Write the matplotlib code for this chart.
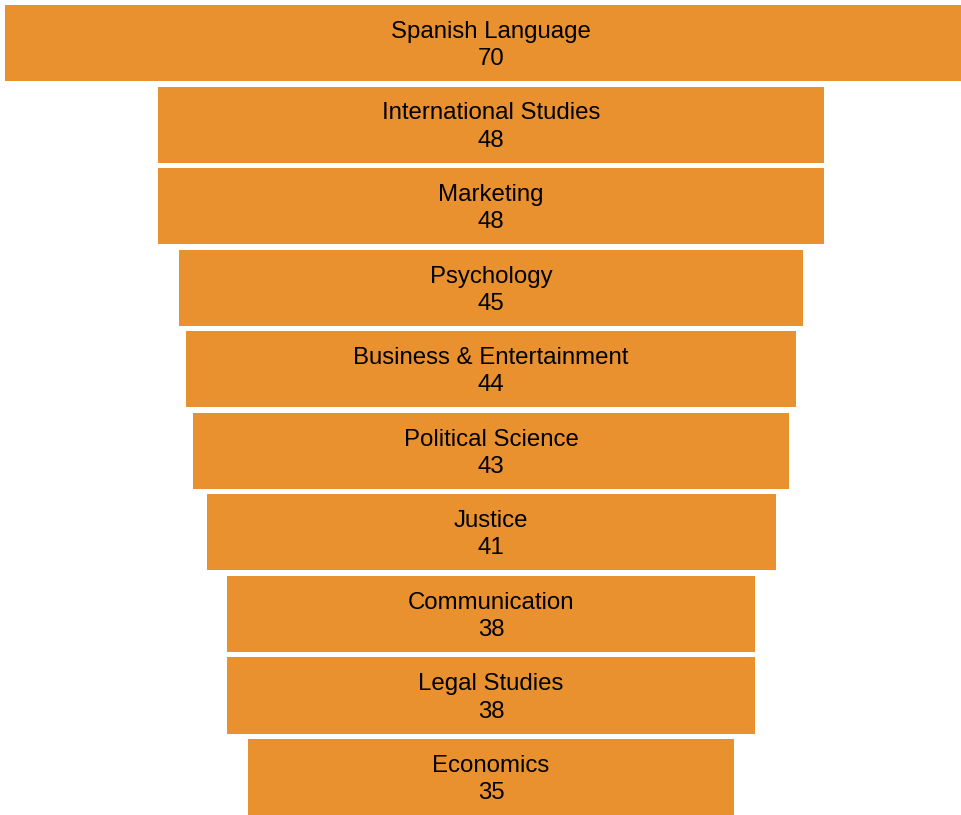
import matplotlib
matplotlib.use("Agg")
import matplotlib.pyplot as plt

categories = ["Spanish Language", "International Studies", "Marketing", "Psychology",
              "Business & Entertainment", "Political Science", "Justice",
              "Communication", "Legal Studies", "Economics"]
values = [70, 48, 48, 45, 44, 43, 41, 38, 38, 35]

bar_color = "#E9912F"
font = dict(fontsize=17.3, family=["Liberation Sans", "DejaVu Sans"], color="black")

fig = plt.figure(figsize=(9.62, 8.15), dpi=100)
ax = fig.add_axes([0, 0, 1, 1])

positions = list(range(len(categories)))
lefts = [-v / 2 for v in values]
ax.barh(positions, values, left=lefts, height=0.932, color=bar_color, edgecolor="none")

# category name above, value below, both centred on the funnel axis
for pos, cat, val in zip(positions, categories, values):
    ax.text(0, pos - 0.062, cat, ha="center", va="baseline", **font)
    ax.text(0, pos + 0.27, str(val), ha="center", va="baseline", **font)

ax.set_xlim(-35.39, 33.94)
ax.set_ylim(9.465, -0.527)
ax.axis("off")

fig.savefig("out.png", dpi=100)
